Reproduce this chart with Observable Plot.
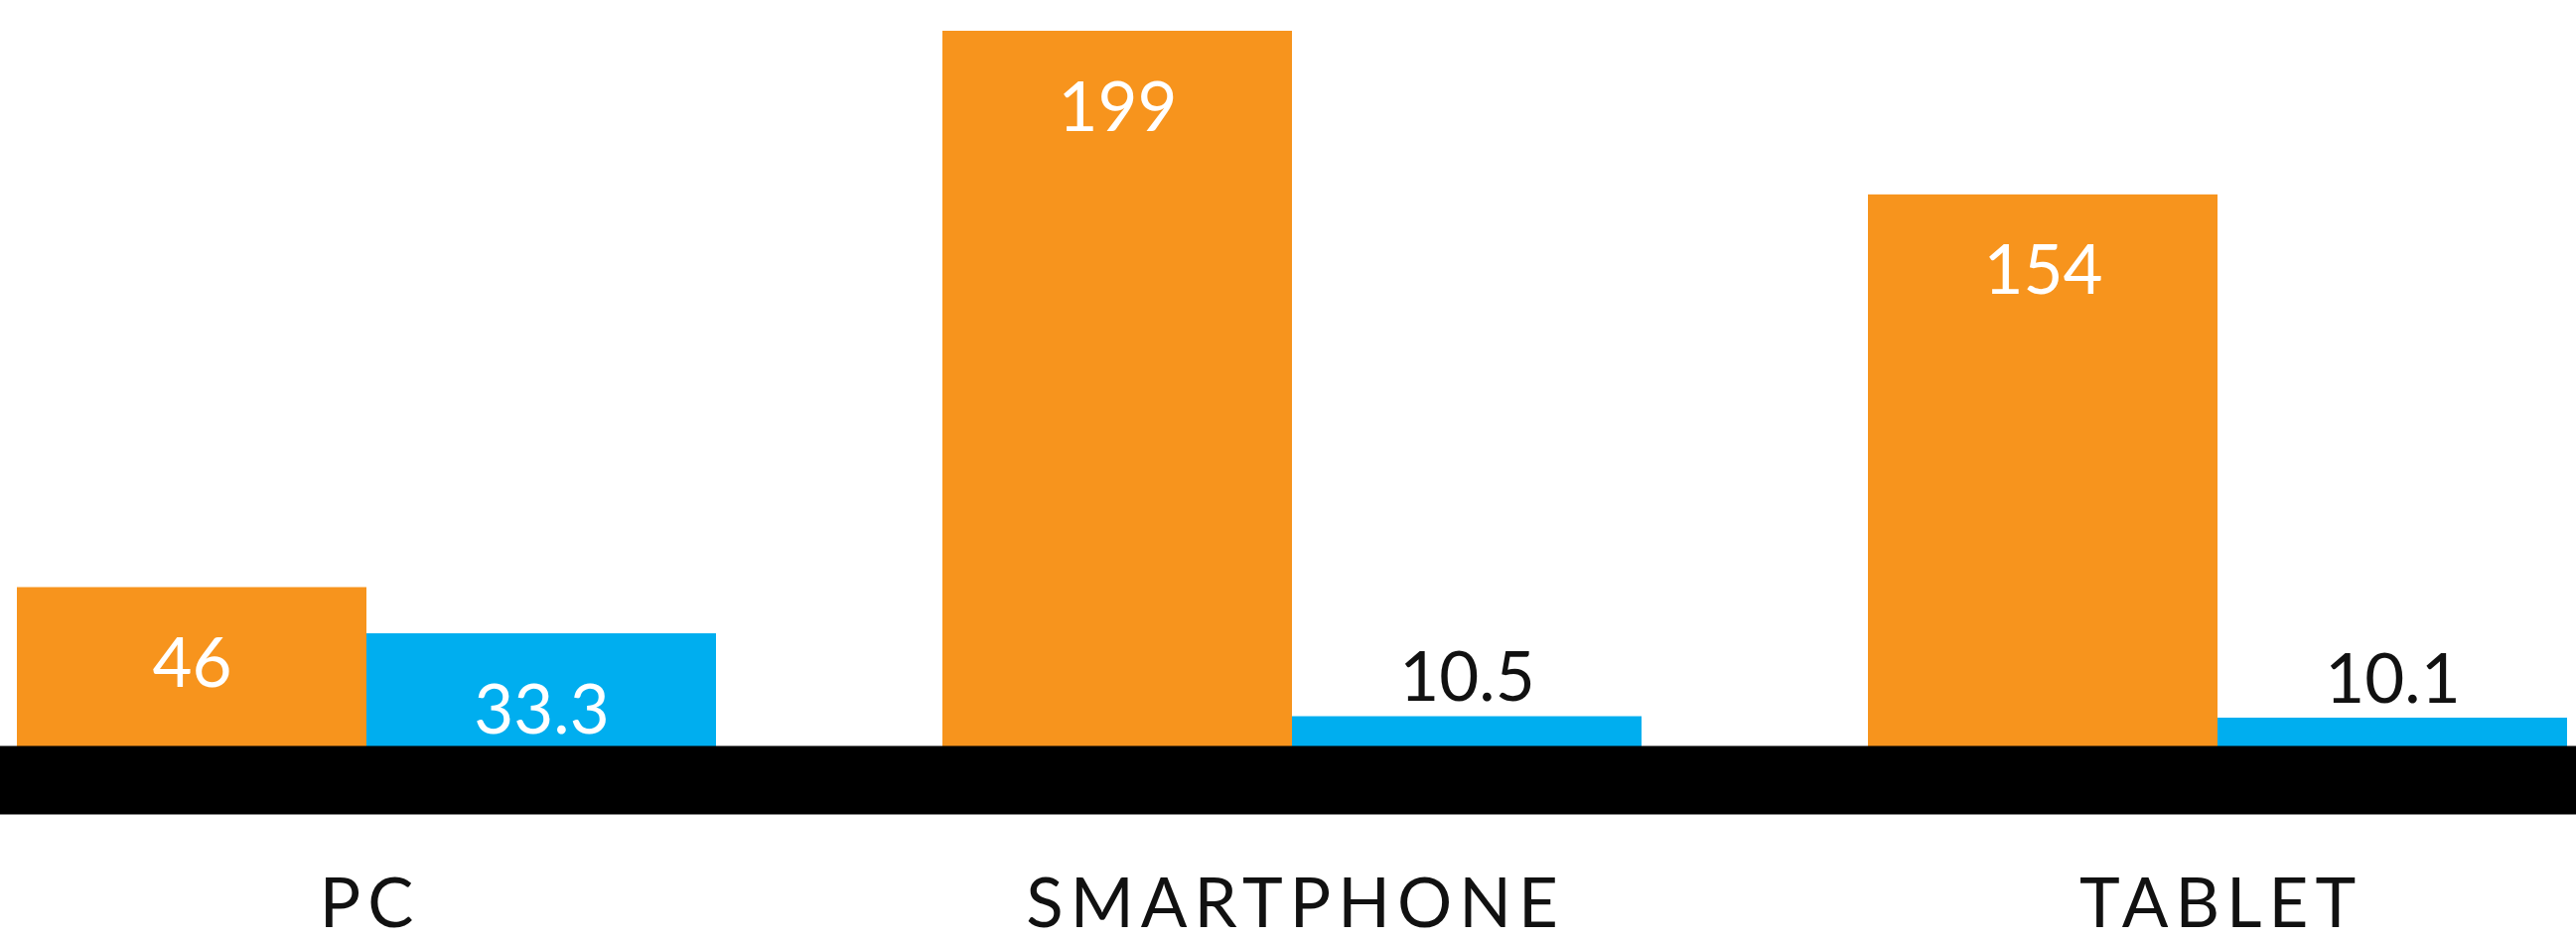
<!DOCTYPE html>
<html>
<head>
<meta charset="utf-8">
<script src="https://cdn.jsdelivr.net/npm/d3@7"></script>
<script src="https://cdn.jsdelivr.net/npm/@observablehq/plot@0.6"></script>
<style>
  html, body { margin: 0; padding: 0; background: #fff; }
  #chart svg { display: block; }
</style>
</head>
<body>
<div id="chart"></div>
<script>
// ---- data ----
const categories = ["PC", "SMARTPHONE", "TABLET"];
const seriesNames = ["series1", "series2"];
const series1Values = [46, 199, 154];
const series2Values = [33.3, 10.5, 10.1];
const seriesColors = ["#F7941D", "#00AEEF"];

const rows = [];
categories.forEach((c, i) => {
  rows.push({category: c, series: seriesNames[0], value: series1Values[i]});
  rows.push({category: c, series: seriesNames[1], value: series2Values[i]});
});
const inside = rows.filter(d => d.value > 20);
const above = rows.filter(d => d.value <= 20);

const font = "Lato, 'Noto Sans', sans-serif";

const chart = Plot.plot({
  width: 2594,
  height: 947,
  marginTop: 31,
  marginBottom: 187,
  marginLeft: 15,
  marginRight: 8,
  style: {background: "#fff", fontFamily: font},
  fx: {domain: categories, paddingInner: 0.244, paddingOuter: 0, axis: null, label: null},
  x: {domain: seriesNames, padding: 0, axis: null, label: null},
  y: {domain: [0, 199], axis: null, label: null},
  color: {domain: seriesNames, range: seriesColors},
  marks: [
    Plot.barY(rows, {fx: "category", x: "series", y: "value", fill: "series"}),
    Plot.frame({anchor: "bottom", stroke: "#000", strokeWidth: 69, dy: 25.5, facet: "super"}),
    Plot.text(inside, {fx: "category", x: "series", y: "value", text: d => String(d.value),
      dy: 78, fill: "#fff", fontSize: 69, fontFamily: font}),
    Plot.text(above, {fx: "category", x: "series", y: "value", text: d => String(d.value),
      dy: -38, fill: "#111", fontSize: 69, fontFamily: font}),
    Plot.text(categories, {fx: d => d, text: d => d, frameAnchor: "bottom", dy: 173, dx: 3.5,
      fill: "#111", fontSize: 69, fontWeight: 400, fontFamily: font})
  ]
});
// letter-spacing for the category labels (style only)
d3.select(chart).selectAll("text")
  .filter(function() { return categories.includes(this.textContent); })
  .style("letter-spacing", "7px");
document.getElementById("chart").appendChild(chart);
</script>
</body>
</html>
